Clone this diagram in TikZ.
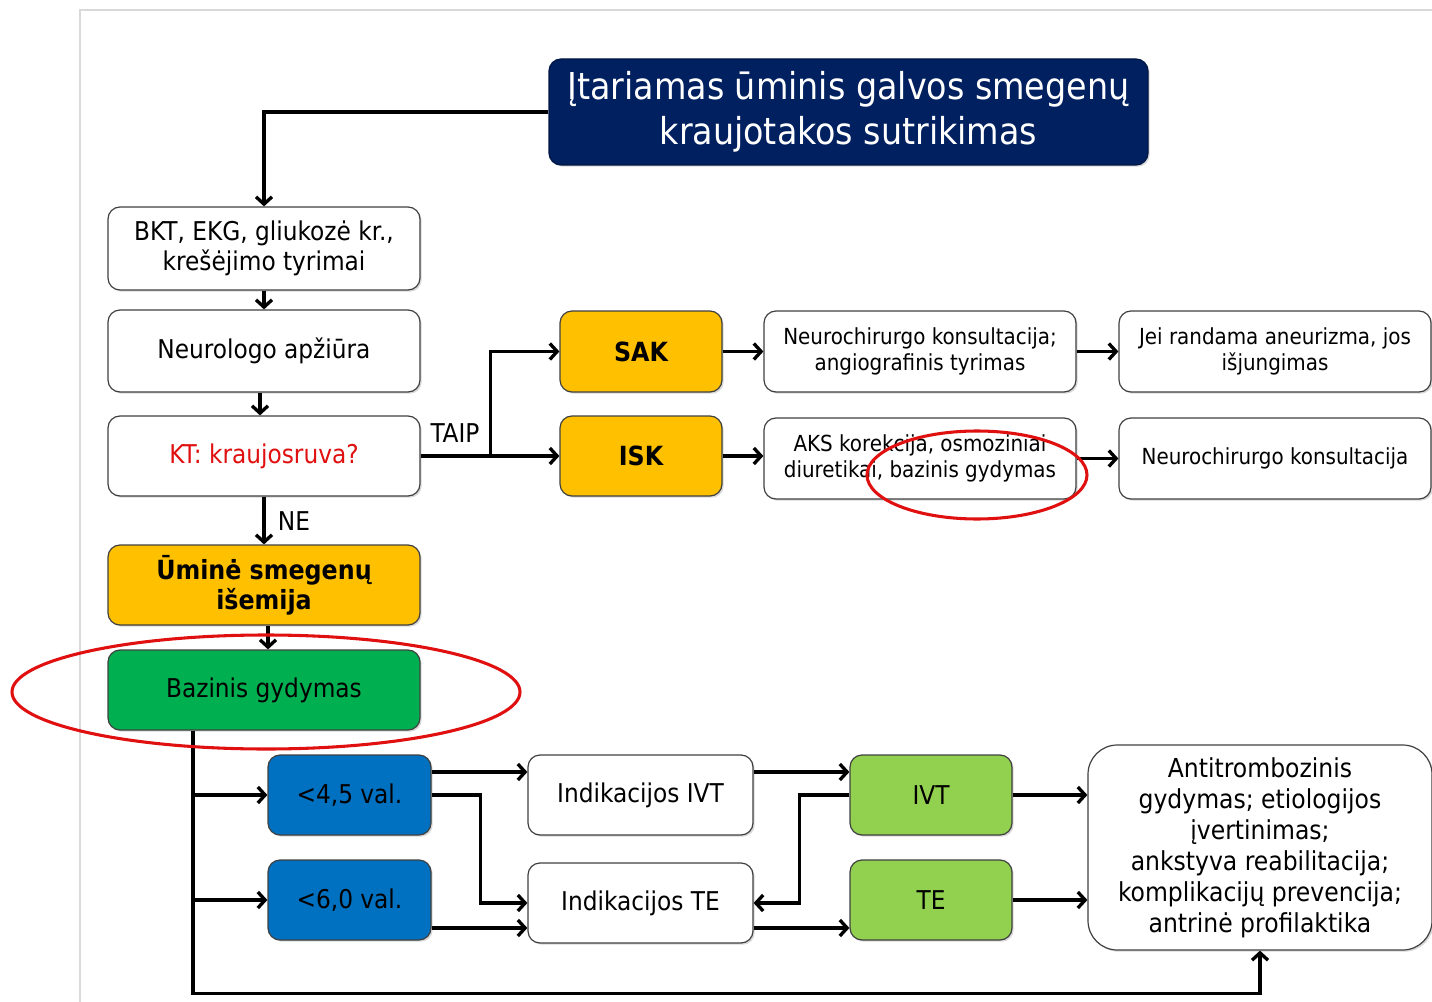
\documentclass[tikz,border=0pt]{standalone}
\usepackage{fontspec}
\setmainfont{DejaVu Sans Condensed}
\usetikzlibrary{arrows.meta,shadows}
\definecolor{navy}{HTML}{002060}
\definecolor{amber}{HTML}{FFC000}
\definecolor{darkgreen}{HTML}{00B050}
\definecolor{lightgreen}{HTML}{92D050}
\definecolor{midblue}{HTML}{0070C0}
\definecolor{alertred}{HTML}{E01010}
\tikzset{
  box/.style={draw=black!75, line width=0.9pt, rounded corners=9pt, fill=white, align=center, inner sep=2pt,
    drop shadow={shadow xshift=1.3pt, shadow yshift=-1.3pt, opacity=0.3}},
  sz/.style 2 args={minimum width=#1*0.75pt, minimum height=#2*0.75pt},
  arr/.style={line width=2.5pt, -{Straight Barb[length=5.5pt, width=12pt]}},
  txs/.style={font=\fontsize{16.6}{19.5}\selectfont},
  txm/.style={font=\fontsize{19.4}{22.5}\selectfont},
  txb/.style={font=\fontsize{19.8}{22.5}\selectfont\bfseries},
  dn/.style={yshift=-#1*0.75pt},
  up/.style={yshift=#1*0.75pt}
}
\begin{document}
\begin{tikzpicture}[x=0.75pt, y=-0.75pt]
\useasboundingbox (0,0) rectangle (1432,1002);
\draw [black!15, line width=0.8pt] (80,1002) -- (80,10) -- (1432,10);
\node [box, sz={599}{106}, fill=navy, draw=navy!70!black, text=white, font=\fontsize{27.8}{34}\selectfont] (title) at (848.5,112) {Įtariamas ūminis galvos smegenų\\kraujotakos sutrikimas};
\node [box, sz={312}{83}, txm] (bkt) at (264,248.5) {BKT, EKG, gliukozė kr.,\\krešėjimo tyrimai};
\node [box, sz={312}{82}, txm] (neuro) at (264,351) {Neurologo apžiūra};
\node [box, sz={312}{80}, txm, text=alertred] (kt) at (264,456) {KT: kraujosruva?};
\node [box, sz={312}{80}, txb, fill=amber] (umi) at (264,585) {Ūminė smegenų\\išemija};
\node [box, sz={312}{80}, txm, fill=darkgreen] (baz) at (264,690) {Bazinis gydymas};
\node [box, sz={162}{81}, txb, fill=amber] (sak) at (641,351.5) {SAK};
\node [box, sz={162}{80}, txb, fill=amber] (isk) at (641,456) {ISK};
\node [box, sz={312}{81}, txs] (nchir) at (920,351.5) {Neurochirurgo konsultacija;\\angiografinis tyrimas};
\node [box, sz={312}{81}, txs] (aks) at (920,458.5) {AKS korekcija, osmoziniai\\diuretikai, bazinis gydymas};
\node [box, sz={312}{81}, txs] (aneur) at (1275,351.5) {Jei randama aneurizma, jos\\išjungimas};
\node [box, sz={312}{81}, txs] (nkons) at (1275,458.5) {Neurochirurgo konsultacija};
\node [box, sz={163}{80}, txm, fill=midblue] (kv45) at (349.5,795) {<4,5 val.};
\node [box, sz={163}{80}, txm, fill=midblue] (kv60) at (349.5,900) {<6,0 val.};
\node [box, sz={225}{80}, txm] (ivtind) at (640.5,795) {Indikacijos IVT};
\node [box, sz={225}{80}, txm] (teind) at (640.5,903) {Indikacijos TE};
\node [box, sz={162}{80}, txm, fill=lightgreen] (ivt) at (931,795) {IVT};
\node [box, sz={162}{80}, txm, fill=lightgreen] (te) at (931,900) {TE};
\node [box, sz={344}{205}, rounded corners=22pt, font=\fontsize{19.6}{23.25}\selectfont] (anti) at (1260,847.5) {Antitrombozinis\\gydymas; etiologijos\\įvertinimas;\\ankstyva reabilitacija;\\komplikacijų prevencija;\\antrinė profilaktika};
\node [txm] (taip) at (455,433) {TAIP};
\node [txm] (ne) at (294,521) {NE};
\draw [arr] (title.west) -| (bkt.north);
\draw [arr] (bkt.south) -- (neuro.north);
\draw [arr] ([xshift=-3pt]neuro.south) -- ([xshift=-3pt]kt.north);
\draw [arr] (kt.east) -- ++(70,0) |- (sak.west);
\draw [arr] (kt.east) -- (isk.west);
\draw [arr] (sak) -- (nchir);
\draw [arr] (nchir) -- (aneur);
\draw [arr] (isk) -- (aks.west |- isk.east);
\draw [arr] (aks) -- (nkons);
\draw [arr] (kt.south) -- (umi.north);
\draw [arr] ([xshift=3pt]umi.south) -- ([xshift=3pt]baz.north);
\coordinate (trunk) at ([xshift=-53.25pt]baz.south);
\draw [arr] (trunk) -- ++(0,263) -| (anti.south);
\draw [arr] (trunk |- kv45.west) -- (kv45.west);
\draw [arr] (trunk |- kv60.west) -- (kv60.west);
\draw [arr] ([up=23]kv45.east) -- ([up=23]ivtind.west);
\draw [arr] (kv45.east) -- ++(49,0) |- (teind.west);
\draw [arr] ([dn=28]kv60.east) -- ([dn=25]teind.west);
\draw [arr] ([up=23]ivtind.east) -- ([up=23]ivt.west);
\draw [arr] (ivt.west) -- ++(-50,0) |- (teind.east);
\draw [arr] ([dn=25]teind.east) -- ([dn=28]te.west);
\draw [arr] (ivt.east) -- (anti.west |- ivt.east);
\draw [arr] (te.east) -- (anti.west |- te.east);
\draw [alertred, line width=2.3pt] (977,475) ellipse [x radius=110, y radius=44];
\draw [alertred, line width=2.3pt] (266,692) ellipse [x radius=254, y radius=57];
\end{tikzpicture}
\end{document}
